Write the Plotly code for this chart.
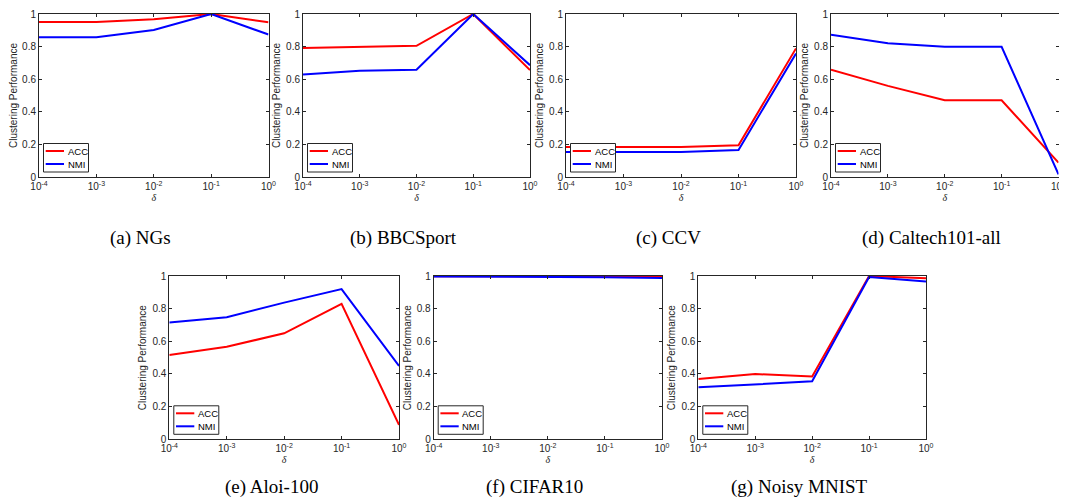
import plotly.graph_objects as go

# ---------------- data ----------------
delta = [1e-4, 1e-3, 1e-2, 1e-1, 1e0]
x_tick_vals = [1e-4, 1e-3, 1e-2, 1e-1, 1e0]
x_tick_text = ["10<sup>-4</sup>", "10<sup>-3</sup>", "10<sup>-2</sup>", "10<sup>-1</sup>", "10<sup>0</sup>"]
y_tick_vals = [0, 0.2, 0.4, 0.6, 0.8, 1.0]
y_tick_text = ["0", "0.2", "0.4", "0.6", "0.8", "1"]
series_names = ["ACC", "NMI"]

captions = ["(a) NGs", "(b) BBCSport", "(c) CCV", "(d) Caltech101-all",
            "(e) Aloi-100", "(f) CIFAR10", "(g) Noisy MNIST"]

ngs_acc = [0.951, 0.951, 0.968, 1.000, 0.949]
ngs_nmi = [0.857, 0.857, 0.902, 1.000, 0.874]

bbc_acc = [0.791, 0.799, 0.805, 1.000, 0.656]
bbc_nmi = [0.629, 0.652, 0.658, 1.000, 0.686]

ccv_acc = [0.184, 0.184, 0.184, 0.195, 0.789]
ccv_nmi = [0.154, 0.154, 0.154, 0.166, 0.758]

caltech_acc = [0.658, 0.559, 0.471, 0.471, 0.088]
caltech_nmi = [0.873, 0.820, 0.799, 0.799, 0.016]

aloi_acc = [0.516, 0.567, 0.649, 0.829, 0.088]
aloi_nmi = [0.716, 0.747, 0.837, 0.920, 0.449]

cifar_acc = [0.999, 0.999, 0.999, 0.998, 0.997]
cifar_nmi = [0.997, 0.996, 0.995, 0.993, 0.988]

mnist_acc = [0.369, 0.400, 0.384, 1.000, 0.986]
mnist_nmi = [0.318, 0.336, 0.355, 0.994, 0.967]

acc_series = [ngs_acc, bbc_acc, ccv_acc, caltech_acc, aloi_acc, cifar_acc, mnist_acc]
nmi_series = [ngs_nmi, bbc_nmi, ccv_nmi, caltech_nmi, aloi_nmi, cifar_nmi, mnist_nmi]

# ---------------- layout / style ----------------
PAGE_W, PAGE_H = 1067, 504
OFF = 8                      # default body margin of the html page
W, H = PAGE_W - OFF, PAGE_H - OFF
# panel boxes in page pixels: left, right, top, bottom
panels_px = [
    (39, 268.5, 14, 177),
    (303, 530, 14, 177),
    (566, 796, 14, 177),
    (831, 1058.5, 14, 177),
    (169.3, 399, 276, 439.3),
    (433.7, 662, 276, 439.3),
    (698.3, 926, 276, 439.3),
]
caption_y_px = [238, 238, 238, 238, 487, 487, 487]
colors = {"ACC": "#FF0000", "NMI": "#0000FF"}
axis_color = "#262626"
sans = "Liberation Sans, Arial, sans-serif"
serif = "Liberation Serif, Times New Roman, serif"


def fx(px):
    return (px - OFF) / W


def fy(py):
    return 1 - (py - OFF) / H


fig = go.Figure()
annotations = []
shapes = []

for i, (l, r, t, b) in enumerate(panels_px):
    k = i + 1
    xa = "x" if k == 1 else f"x{k}"
    ya = "y" if k == 1 else f"y{k}"
    for name, vals in zip(series_names, [acc_series[i], nmi_series[i]]):
        fig.add_trace(go.Scatter(
            x=delta, y=vals, mode="lines", name=name, showlegend=False,
            line=dict(color=colors[name], width=2),
            xaxis=xa, yaxis=ya, hoverinfo="x+y+name",
        ))

    xaxis_key = "xaxis" if k == 1 else f"xaxis{k}"
    yaxis_key = "yaxis" if k == 1 else f"yaxis{k}"
    fig.update_layout({
        xaxis_key: dict(
            domain=[fx(l), fx(r)], anchor=ya, type="log", range=[-4, 0],
            tickvals=x_tick_vals, ticktext=x_tick_text, automargin=False,
            ticks="inside", ticklen=3, tickwidth=1, tickcolor=axis_color,
            showline=True, linecolor=axis_color, linewidth=1, mirror="ticks",
            showgrid=False, zeroline=False,
            tickfont=dict(family=sans, size=10, color=axis_color),
            title=dict(text="<i>δ</i>", standoff=2,
                       font=dict(family=serif, size=10, color=axis_color)),
        ),
        yaxis_key: dict(
            domain=[fy(b), fy(t)], anchor=xa, range=[0, 1],
            tickvals=y_tick_vals, ticktext=y_tick_text, automargin=False,
            ticks="inside", ticklen=3, tickwidth=1, tickcolor=axis_color,
            showline=True, linecolor=axis_color, linewidth=1, mirror="ticks",
            showgrid=False, zeroline=False,
            tickfont=dict(family=sans, size=10, color=axis_color),
            title=dict(text="Clustering Performance", standoff=3,
                       font=dict(family=sans, size=10, color=axis_color)),
        ),
    })

    # caption
    annotations.append(dict(
        text=captions[i], xref="paper", yref="paper",
        x=fx((l + r) / 2 - 13), y=fy(caption_y_px[i]),
        xanchor="center", yanchor="middle", showarrow=False,
        font=dict(family=serif, size=19, color="black"),
    ))

    # legend box (lower-left inside axes), in pixel offsets converted to domain
    pw, ph = r - l, b - t
    xd = f"{xa} domain"
    yd = f"{ya} domain"
    bx0, bx1 = 4.5 / pw, 49.5 / pw
    by0, by1 = 5 / ph, 33.5 / ph
    shapes.append(dict(type="rect", xref=xd, yref=yd, x0=bx0, x1=bx1, y0=by0, y1=by1,
                       line=dict(color=axis_color, width=1), fillcolor="white", layer="above"))
    for j, name in enumerate(series_names):
        yy = (26 - 13 * j) / ph
        shapes.append(dict(type="line", xref=xd, yref=yd, x0=6.7 / pw, x1=25 / pw, y0=yy, y1=yy,
                           line=dict(color=colors[name], width=2), layer="above"))
        annotations.append(dict(
            text=name, xref=xd, yref=yd, x=26.5 / pw, y=yy, xanchor="left", yanchor="middle",
            showarrow=False, font=dict(family=sans, size=9.5, color="black"),
        ))

fig.update_layout(
    width=W, height=H, margin=dict(l=0, r=0, t=0, b=0, autoexpand=False),
    paper_bgcolor="white", plot_bgcolor="white",
    annotations=annotations, shapes=shapes, showlegend=False,
)

fig.write_html("out.html")
